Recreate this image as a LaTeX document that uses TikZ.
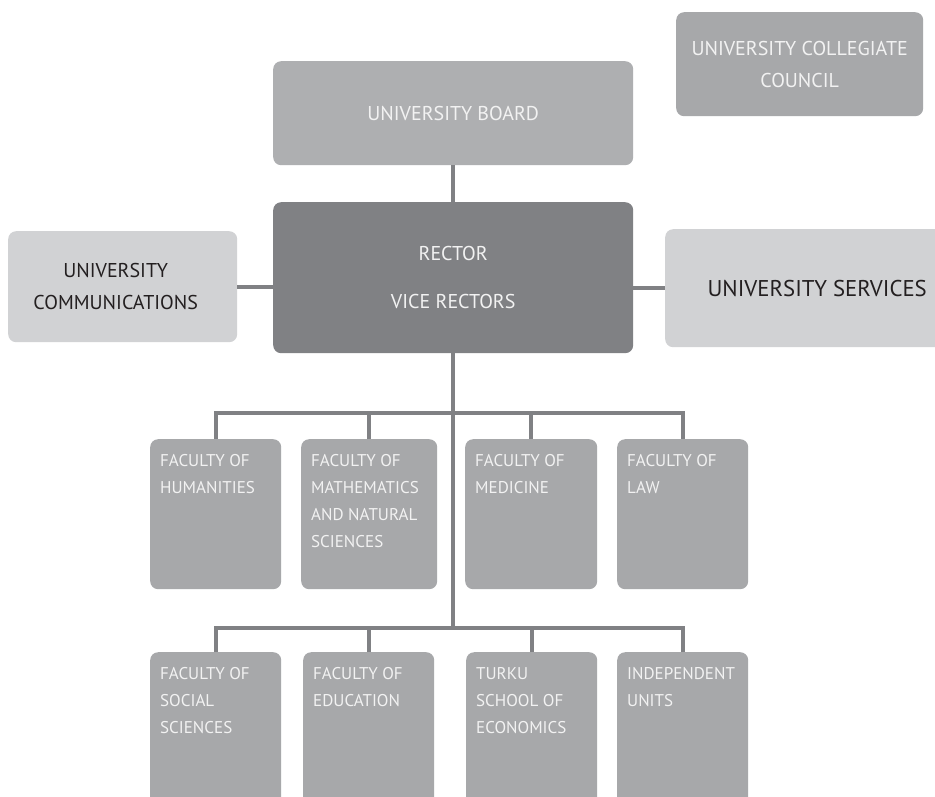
\documentclass[tikz,border=0pt]{standalone}
\usepackage{fontspec}
\setmainfont{PT Sans}
\definecolor{dkgray}{HTML}{808184}
\definecolor{mdgray}{HTML}{A7A8AA}
\definecolor{bdgray}{HTML}{AEAFB1}
\definecolor{ltgray}{HTML}{D1D2D4}
\definecolor{dktext}{HTML}{231F20}
\definecolor{lttext}{HTML}{F2F2F2}
\newcommand\factxt[3]{\parbox[t][#1][t]{#2}{\raggedright\vspace*{15pt}\fontsize{17}{27}\selectfont #3}}
\begin{document}
\begin{tikzpicture}[x=1pt,y=-1pt,
  box/.style={rounded corners=8pt, inner sep=0pt, anchor=north west, align=center, font=\fontsize{20}{32}\selectfont},
  darkbox/.style={box, fill=dkgray, text=lttext},
  midbox/.style={box, fill=mdgray, text=lttext},
  boardbox/.style={box, fill=bdgray, text=lttext},
  lightbox/.style={box, fill=ltgray, text=dktext},
  facbox/.style={rounded corners=8pt, anchor=north west, fill=mdgray, text=lttext, inner xsep=10pt, inner ysep=0pt},
  conn/.style={draw=dkgray, line width=4pt}
]
\useasboundingbox (0,0) rectangle (935,796);
\fill[white] (0,0) rectangle (935,796);

% top
\node[midbox, minimum width=247pt, minimum height=104pt] (council) at (676,12) {UNIVERSITY COLLEGIATE\\COUNCIL};
\node[boardbox, minimum width=360pt, minimum height=104pt] (board) at (273,61) {UNIVERSITY BOARD};
\node[darkbox, minimum width=360pt, minimum height=151pt, font=\fontsize{20}{48}\selectfont] (rector) at (273,202) {RECTOR\\VICE RECTORS};
\node[lightbox, minimum width=229pt, minimum height=111pt] (comm) at (8,231) {UNIVERSITY\hspace*{14pt}\\COMMUNICATIONS\hspace*{14pt}};
\node[lightbox, minimum width=304pt, minimum height=118pt, font=\fontsize{22.8}{32}\selectfont] (serv) at (665,229) {UNIVERSITY SERVICES};

% faculties row 1
\node[facbox] (f1) at (150,439) {\factxt{150pt}{111pt}{FACULTY OF\\HUMANITIES}};
\node[facbox] (f2) at (301,439) {\factxt{150pt}{116pt}{FACULTY OF\\MATHEMATICS\\AND NATURAL\\SCIENCES}};
\node[facbox] (f3) at (465,439) {\factxt{150pt}{112pt}{FACULTY OF\\MEDICINE}};
\node[facbox] (f4) at (617,439) {\factxt{150pt}{111pt}{FACULTY OF\\LAW}};

% faculties row 2
\node[facbox] (g1) at (150,652) {\factxt{160pt}{111pt}{FACULTY OF\\SOCIAL\\SCIENCES}};
\node[facbox] (g2) at (303,652) {\factxt{160pt}{111pt}{FACULTY OF\\EDUCATION}};
\node[facbox] (g3) at (466,652) {\factxt{160pt}{111pt}{TURKU\\SCHOOL OF\\ECONOMICS}};
\node[facbox] (g4) at (617,652) {\factxt{160pt}{111pt}{INDEPENDENT\\UNITS}};

\coordinate (bus1) at (455,413);
\coordinate (bus2) at (455,628);

% connectors
\draw[conn] (board.south) -- (rector.north);
\draw[conn] (comm.east) -- (rector.west |- comm.east);
\draw[conn] (serv.west) -- (rector.east |- serv.west);
\draw[conn] (rector.south) -- (rector.south |- bus2);
\draw[conn] (f1.north) -- (f1.north |- bus1) -- (f4.north |- bus1) -- (f4.north);
\draw[conn] (f2.north) -- (f2.north |- bus1);
\draw[conn] (f3.north) -- (f3.north |- bus1);
\draw[conn] (g1.north) -- (g1.north |- bus2) -- (g4.north |- bus2) -- (g4.north);
\draw[conn] (g2.north) -- (g2.north |- bus2);
\draw[conn] (g3.north) -- (g3.north |- bus2);
\end{tikzpicture}
\end{document}
